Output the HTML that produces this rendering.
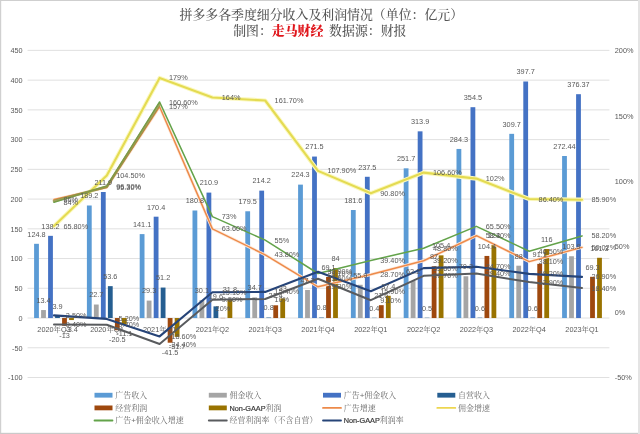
<!DOCTYPE html>
<html lang="zh-CN">
<head>
<meta charset="utf-8">
<title>拼多多各季度细分收入及利润情况</title>
<style>
html,body{margin:0;padding:0;background:#fff;}
body{width:640px;height:434px;overflow:hidden;}
svg{display:block;}
</style>
</head>
<body>
<svg width="640" height="434" viewBox="0 0 640 434">
<rect x="0" y="0" width="640" height="434" fill="#ffffff"/>
<rect x="0" y="0" width="1.2" height="434" fill="#d0d0d0"/>
<rect x="0" y="0" width="640" height="1" fill="#cfcfcf"/>
<rect x="0" y="432.8" width="640" height="1.2" fill="#cacaca"/>
<rect x="638" y="0" width="2" height="434" fill="#e4e4e4"/>
<g stroke="#dcdcdc" stroke-width="0.9">
<line x1="27.6" y1="377.50" x2="609.4" y2="377.50"/>
<line x1="27.6" y1="347.76" x2="609.4" y2="347.76"/>
<line x1="27.6" y1="318.03" x2="609.4" y2="318.03"/>
<line x1="27.6" y1="288.29" x2="609.4" y2="288.29"/>
<line x1="27.6" y1="258.55" x2="609.4" y2="258.55"/>
<line x1="27.6" y1="228.82" x2="609.4" y2="228.82"/>
<line x1="27.6" y1="199.08" x2="609.4" y2="199.08"/>
<line x1="27.6" y1="169.35" x2="609.4" y2="169.35"/>
<line x1="27.6" y1="139.61" x2="609.4" y2="139.61"/>
<line x1="27.6" y1="109.87" x2="609.4" y2="109.87"/>
<line x1="27.6" y1="80.14" x2="609.4" y2="80.14"/>
<line x1="27.6" y1="50.40" x2="609.4" y2="50.40"/>
</g>
<g font-family="Liberation Sans, sans-serif" font-size="7.3" fill="#595959">
<g text-anchor="end">
<text x="22.6" y="380.2">-100</text>
<text x="22.6" y="350.5">-50</text>
<text x="22.6" y="320.7">0</text>
<text x="22.6" y="291.0">50</text>
<text x="22.6" y="261.3">100</text>
<text x="22.6" y="231.5">150</text>
<text x="22.6" y="201.8">200</text>
<text x="22.6" y="172.0">250</text>
<text x="22.6" y="142.3">300</text>
<text x="22.6" y="112.6">350</text>
<text x="22.6" y="82.8">400</text>
<text x="22.6" y="53.1">450</text>
</g>
<text x="614.8" y="380.2">-50%</text>
<text x="614.8" y="314.8">0%</text>
<text x="614.8" y="249.4">50%</text>
<text x="614.8" y="183.9">100%</text>
<text x="614.8" y="118.5">150%</text>
<text x="614.8" y="53.1">200%</text>
</g>
<g>
<rect x="34.10" y="243.81" width="4.8" height="74.22" fill="#5B9BD5"/>
<rect x="41.10" y="310.06" width="4.8" height="7.97" fill="#A5A5A5"/>
<rect x="48.10" y="235.84" width="4.8" height="82.19" fill="#4472C4"/>
<rect x="55.10" y="315.71" width="4.8" height="2.32" fill="#255E91"/>
<rect x="62.10" y="318.03" width="4.8" height="7.73" fill="#9E480E"/>
<rect x="69.10" y="318.03" width="4.8" height="2.02" fill="#997300"/>
<rect x="86.90" y="205.50" width="4.8" height="112.52" fill="#5B9BD5"/>
<rect x="93.90" y="304.53" width="4.8" height="13.50" fill="#A5A5A5"/>
<rect x="100.90" y="192.00" width="4.8" height="126.02" fill="#4472C4"/>
<rect x="107.90" y="286.15" width="4.8" height="31.88" fill="#255E91"/>
<rect x="114.90" y="318.03" width="4.8" height="12.19" fill="#9E480E"/>
<rect x="121.90" y="318.03" width="4.8" height="6.60" fill="#997300"/>
<rect x="139.70" y="234.11" width="4.8" height="83.92" fill="#5B9BD5"/>
<rect x="146.70" y="300.60" width="4.8" height="17.43" fill="#A5A5A5"/>
<rect x="153.70" y="216.69" width="4.8" height="101.34" fill="#4472C4"/>
<rect x="160.70" y="287.58" width="4.8" height="30.45" fill="#255E91"/>
<rect x="167.70" y="318.03" width="4.8" height="24.68" fill="#9E480E"/>
<rect x="174.70" y="318.03" width="4.8" height="18.85" fill="#997300"/>
<rect x="192.50" y="210.50" width="4.8" height="107.53" fill="#5B9BD5"/>
<rect x="199.50" y="300.13" width="4.8" height="17.90" fill="#A5A5A5"/>
<rect x="206.50" y="192.60" width="4.8" height="125.43" fill="#4472C4"/>
<rect x="213.50" y="306.37" width="4.8" height="11.66" fill="#255E91"/>
<rect x="220.50" y="317.91" width="4.8" height="0.25" fill="#9E480E"/>
<rect x="227.50" y="299.11" width="4.8" height="18.91" fill="#997300"/>
<rect x="245.30" y="211.27" width="4.8" height="106.75" fill="#5B9BD5"/>
<rect x="252.30" y="297.39" width="4.8" height="20.64" fill="#A5A5A5"/>
<rect x="259.30" y="190.64" width="4.8" height="127.39" fill="#4472C4"/>
<rect x="266.30" y="317.55" width="4.8" height="0.48" fill="#255E91"/>
<rect x="273.30" y="305.30" width="4.8" height="12.73" fill="#9E480E"/>
<rect x="280.30" y="298.40" width="4.8" height="19.63" fill="#997300"/>
<rect x="298.10" y="184.63" width="4.8" height="133.40" fill="#5B9BD5"/>
<rect x="305.10" y="289.96" width="4.8" height="28.07" fill="#A5A5A5"/>
<rect x="312.10" y="156.56" width="4.8" height="161.47" fill="#4472C4"/>
<rect x="319.10" y="317.55" width="4.8" height="0.48" fill="#255E91"/>
<rect x="326.10" y="276.93" width="4.8" height="41.10" fill="#9E480E"/>
<rect x="333.10" y="268.07" width="4.8" height="49.96" fill="#997300"/>
<rect x="350.90" y="210.02" width="4.8" height="108.00" fill="#5B9BD5"/>
<rect x="357.90" y="284.78" width="4.8" height="33.25" fill="#A5A5A5"/>
<rect x="364.90" y="176.78" width="4.8" height="141.25" fill="#4472C4"/>
<rect x="371.90" y="317.79" width="4.8" height="0.25" fill="#255E91"/>
<rect x="378.90" y="305.18" width="4.8" height="12.85" fill="#9E480E"/>
<rect x="385.90" y="295.78" width="4.8" height="22.24" fill="#997300"/>
<rect x="403.70" y="168.33" width="4.8" height="149.69" fill="#5B9BD5"/>
<rect x="410.70" y="281.04" width="4.8" height="36.99" fill="#A5A5A5"/>
<rect x="417.70" y="131.34" width="4.8" height="186.68" fill="#4472C4"/>
<rect x="424.70" y="317.73" width="4.8" height="0.30" fill="#255E91"/>
<rect x="431.70" y="266.29" width="4.8" height="51.74" fill="#9E480E"/>
<rect x="438.70" y="255.34" width="4.8" height="62.68" fill="#997300"/>
<rect x="456.50" y="148.95" width="4.8" height="169.08" fill="#5B9BD5"/>
<rect x="463.50" y="276.28" width="4.8" height="41.75" fill="#A5A5A5"/>
<rect x="470.50" y="107.20" width="4.8" height="210.83" fill="#4472C4"/>
<rect x="477.50" y="317.67" width="4.8" height="0.36" fill="#255E91"/>
<rect x="484.50" y="255.94" width="4.8" height="62.09" fill="#9E480E"/>
<rect x="491.50" y="244.88" width="4.8" height="73.15" fill="#997300"/>
<rect x="509.30" y="133.84" width="4.8" height="184.19" fill="#5B9BD5"/>
<rect x="516.30" y="265.69" width="4.8" height="52.34" fill="#A5A5A5"/>
<rect x="523.30" y="81.50" width="4.8" height="236.52" fill="#4472C4"/>
<rect x="530.30" y="317.67" width="4.8" height="0.36" fill="#255E91"/>
<rect x="537.30" y="263.85" width="4.8" height="54.18" fill="#9E480E"/>
<rect x="544.30" y="249.04" width="4.8" height="68.99" fill="#997300"/>
<rect x="562.10" y="156.00" width="4.8" height="162.03" fill="#5B9BD5"/>
<rect x="569.10" y="256.24" width="4.8" height="61.79" fill="#A5A5A5"/>
<rect x="576.10" y="94.19" width="4.8" height="223.84" fill="#4472C4"/>
<rect x="590.10" y="276.81" width="4.8" height="41.21" fill="#9E480E"/>
<rect x="597.10" y="257.78" width="4.8" height="60.25" fill="#997300"/>
</g>
<g font-family="Liberation Sans, Noto Serif CJK SC, sans-serif" font-size="7.3" fill="#595959" text-anchor="middle">
<text x="54.0" y="331.5">2020年Q3</text>
<text x="106.8" y="331.5">2020年Q4</text>
<text x="159.6" y="331.5">2021年Q1</text>
<text x="212.4" y="331.5">2021年Q2</text>
<text x="265.2" y="331.5">2021年Q3</text>
<text x="318.0" y="331.5">2021年Q4</text>
<text x="370.8" y="331.5">2022年Q1</text>
<text x="423.6" y="331.5">2022年Q2</text>
<text x="476.4" y="331.5">2022年Q3</text>
<text x="529.2" y="331.5">2022年Q4</text>
<text x="582.0" y="331.5">2023年Q1</text>
</g>
<g fill="none" stroke-linejoin="round" stroke-linecap="round">
<polyline points="54.0,199.6 106.8,187.4 159.6,106.7 212.4,228.9 265.2,254.8 318.0,286.8 370.8,274.5 423.6,260.8 476.4,235.7 529.2,261.6 582.0,247.4" stroke="#fde9da" stroke-width="3.0"/>
<polyline points="54.0,199.6 106.8,187.4 159.6,106.7 212.4,228.9 265.2,254.8 318.0,286.8 370.8,274.5 423.6,260.8 476.4,235.7 529.2,261.6 582.0,247.4" stroke="#ED8A4A" stroke-width="1.5"/>
<polyline points="54.0,226.0 106.8,175.4 159.6,77.9 212.4,97.5 265.2,100.5 318.0,170.9 370.8,193.3 423.6,172.6 476.4,178.6 529.2,199.0 582.0,199.7" stroke="#fbf8c0" stroke-width="4.2"/>
<polyline points="54.0,226.0 106.8,175.4 159.6,77.9 212.4,97.5 265.2,100.5 318.0,170.9 370.8,193.3 423.6,172.6 476.4,178.6 529.2,199.0 582.0,199.7" stroke="#E4DB52" stroke-width="2.1"/>
<polyline points="54.0,202.2 106.8,186.1 159.6,102.0 212.4,216.6 265.2,240.1 318.0,273.5 370.8,260.5 423.6,248.2 476.4,226.4 529.2,251.2 582.0,235.9" stroke="#63A34A" stroke-width="1.55"/>
<polyline points="54.0,200.9 106.8,186.7 159.6,104.3" stroke="#8b9443" stroke-width="2.6" stroke-opacity="0.8"/>
<polyline points="54.0,324.4 106.8,324.8 159.6,344.0 212.4,299.7 265.2,299.0 318.0,278.7 370.8,300.2 423.6,275.8 476.4,273.6 529.2,282.1 582.0,288.0" stroke="#595B5E" stroke-width="2"/>
<polyline points="54.0,315.4 106.8,318.9 159.6,336.4 212.4,292.3 265.2,291.9 318.0,271.7 370.8,291.3 423.6,268.1 476.4,266.7 529.2,273.9 582.0,276.9" stroke="#264478" stroke-width="2.1"/>
</g>
<g font-family="Liberation Sans, sans-serif" font-size="7.3" fill="#595959">
<g text-anchor="middle">
<text x="36.5" y="236.6">124.8</text>
<text x="43.5" y="302.9">13.4</text>
<text x="50.5" y="228.6">138.2</text>
<text x="57.5" y="308.5">3.9</text>
<text x="64.5" y="337.6">-13</text>
<text x="71.5" y="331.8">-3.4</text>
<text x="89.3" y="198.3">189.2</text>
<text x="96.3" y="297.3">22.7</text>
<text x="103.3" y="184.8">211.9</text>
<text x="110.3" y="278.9">53.6</text>
<text x="117.3" y="342.0">-20.5</text>
<text x="124.3" y="336.4">-11.1</text>
<text x="142.1" y="226.9">141.1</text>
<text x="149.1" y="293.4">29.3</text>
<text x="156.1" y="209.5">170.4</text>
<text x="163.1" y="280.4">51.2</text>
<text x="170.1" y="354.5">-41.5</text>
<text x="177.1" y="348.7">-31.7</text>
<text x="194.9" y="203.3">180.8</text>
<text x="201.9" y="292.9">30.1</text>
<text x="208.9" y="185.4">210.9</text>
<text x="215.9" y="299.2">19.6</text>
<text x="222.9" y="310.7">20%</text>
<text x="229.9" y="291.9">31.8</text>
<text x="247.7" y="204.1">179.5</text>
<text x="254.7" y="290.2">34.7</text>
<text x="261.7" y="183.4">214.2</text>
<text x="268.7" y="310.4">0.8</text>
<text x="275.7" y="298.1">21.4</text>
<text x="282.7" y="291.2">33</text>
<text x="300.5" y="177.4">224.3</text>
<text x="307.5" y="282.8">47.2</text>
<text x="314.5" y="149.4">271.5</text>
<text x="321.5" y="310.4">0.8</text>
<text x="328.5" y="269.7">69.1</text>
<text x="335.5" y="260.9">84</text>
<text x="353.3" y="202.8">181.6</text>
<text x="360.3" y="277.6">55.9</text>
<text x="367.3" y="169.6">237.5</text>
<text x="374.3" y="310.6">0.4</text>
<text x="381.3" y="298.0">21.6</text>
<text x="388.3" y="288.6">37.4</text>
<text x="406.1" y="161.1">251.7</text>
<text x="413.1" y="273.8">62.2</text>
<text x="420.1" y="124.1">313.9</text>
<text x="427.1" y="310.5">0.5</text>
<text x="434.1" y="259.1">87</text>
<text x="441.1" y="248.1">105.4</text>
<text x="458.9" y="141.7">284.3</text>
<text x="465.9" y="269.1">70.2</text>
<text x="472.9" y="100.0">354.5</text>
<text x="479.9" y="310.5">0.6</text>
<text x="486.9" y="248.7">104.4</text>
<text x="493.9" y="237.7">123</text>
<text x="511.7" y="126.6">309.7</text>
<text x="518.7" y="258.5">88</text>
<text x="525.7" y="74.3">397.7</text>
<text x="532.7" y="310.5">0.6</text>
<text x="539.7" y="256.6">91.1</text>
<text x="546.7" y="241.8">116</text>
<text x="564.5" y="148.8">272.44</text>
<text x="571.5" y="249.0">103.9</text>
<text x="578.5" y="87.0">376.37</text>
<text x="592.5" y="269.6">69.3</text>
<text x="599.5" y="250.6">101.3</text>
</g>
<text x="63.4" y="202.1">86%</text>
<text x="116.2" y="189.9">95.30%</text>
<text x="169.0" y="109.2">157%</text>
<text x="221.8" y="231.4">63.60%</text>
<text x="274.6" y="257.3">43.80%</text>
<text x="327.4" y="289.3">19.30%</text>
<text x="380.2" y="277.0">28.70%</text>
<text x="433.0" y="263.3">39.20%</text>
<text x="485.8" y="238.2">58.40%</text>
<text x="538.6" y="264.1">38.10%</text>
<text x="591.4" y="249.9">50.02%</text>
<text x="63.4" y="228.5">65.80%</text>
<text x="116.2" y="177.9">104.50%</text>
<text x="169.0" y="80.4">179%</text>
<text x="221.8" y="100.0">164%</text>
<text x="274.6" y="103.0">161.70%</text>
<text x="327.4" y="173.4">107.90%</text>
<text x="380.2" y="195.8">90.80%</text>
<text x="433.0" y="175.1">106.60%</text>
<text x="485.8" y="181.1">102%</text>
<text x="538.6" y="201.5">86.40%</text>
<text x="591.4" y="202.2">85.90%</text>
<text x="63.4" y="204.7">84%</text>
<text x="116.2" y="188.6">96.30%</text>
<text x="169.0" y="104.5">160.60%</text>
<text x="221.8" y="219.1">73%</text>
<text x="274.6" y="242.6">55%</text>
<text x="327.4" y="276.0">28.10%</text>
<text x="380.2" y="263.0">39.40%</text>
<text x="433.0" y="250.7">48.80%</text>
<text x="485.8" y="228.9">65.50%</text>
<text x="538.6" y="253.7">46.50%</text>
<text x="591.4" y="238.4">58.20%</text>
<text x="63.4" y="326.9">-9.40%</text>
<text x="116.2" y="327.3">-9.70%</text>
<text x="169.0" y="346.5">-24.40%</text>
<text x="221.8" y="302.2">9.50%</text>
<text x="274.6" y="301.5">10%</text>
<text x="327.4" y="281.2">25.50%</text>
<text x="380.2" y="302.7">9.10%</text>
<text x="433.0" y="278.3">27.70%</text>
<text x="485.8" y="276.1">29.40%</text>
<text x="538.6" y="284.6">22.90%</text>
<text x="591.4" y="290.5">18.40%</text>
<text x="63.4" y="317.9">-2.50%</text>
<text x="116.2" y="321.4">-5.20%</text>
<text x="169.0" y="338.9">-18.60%</text>
<text x="221.8" y="294.8">15.10%</text>
<text x="274.6" y="294.4">15.40%</text>
<text x="327.4" y="274.2">30.90%</text>
<text x="380.2" y="293.8">15.90%</text>
<text x="433.0" y="270.6">33.60%</text>
<text x="485.8" y="269.2">34.70%</text>
<text x="538.6" y="276.4">29.20%</text>
<text x="591.4" y="279.4">26.90%</text>
</g>
<g font-family="Liberation Serif, Noto Serif CJK SC, serif" font-size="12.9" fill="#555555" text-anchor="middle" font-weight="500">
<text x="321.3" y="19.2">拼多多各季度细分收入及利润情况（单位：亿元）</text>
<text x="319.8" y="35.3" xml:space="preserve">制图：<tspan fill="#e0161c" font-weight="900">走马财经</tspan><tspan dx="2.5"> 数据源：财报</tspan></text>
</g>
<g font-family="Liberation Sans, Noto Serif CJK SC, serif" font-size="8" fill="#6c6c6c">
<rect x="94.5" y="392.8" width="18" height="4.8" fill="#5B9BD5"/>
<text x="115.2" y="398.1">广告收入</text>
<rect x="208.8" y="392.8" width="18" height="4.8" fill="#A5A5A5"/>
<text x="229.5" y="398.1">佣金收入</text>
<rect x="323" y="392.8" width="18" height="4.8" fill="#4472C4"/>
<text x="343.7" y="398.1">广告+佣金收入</text>
<rect x="437.3" y="392.8" width="18" height="4.8" fill="#255E91"/>
<text x="458.0" y="398.1">自营收入</text>
<rect x="94.5" y="405.5" width="18" height="4.8" fill="#9E480E"/>
<text x="115.2" y="410.8">经营利润</text>
<rect x="208.8" y="405.5" width="18" height="4.8" fill="#997300"/>
<text x="229.5" y="410.8"><tspan font-size="7.3" fill="#3a3a3a" stroke="#3a3a3a" stroke-width="0.2">Non-GAAP</tspan>利润</text>
<line x1="323" y1="407.9" x2="341" y2="407.9" stroke="#ED8A4A" stroke-width="1.8" stroke-linecap="round"/>
<text x="343.7" y="410.8">广告增速</text>
<line x1="437.3" y1="407.9" x2="455.3" y2="407.9" stroke="#EDD650" stroke-width="1.8" stroke-linecap="round"/>
<text x="458.0" y="410.8">佣金增速</text>
<line x1="94.5" y1="420.5" x2="112.5" y2="420.5" stroke="#63A34A" stroke-width="1.8" stroke-linecap="round"/>
<text x="115.2" y="423.4">广告+佣金收入增速</text>
<line x1="208.8" y1="420.5" x2="226.8" y2="420.5" stroke="#595B5E" stroke-width="1.8" stroke-linecap="round"/>
<text x="229.5" y="423.4">经营利润率（不含自营）</text>
<line x1="323" y1="420.5" x2="341" y2="420.5" stroke="#264478" stroke-width="1.8" stroke-linecap="round"/>
<text x="343.7" y="423.4"><tspan font-size="7.3" fill="#3a3a3a" stroke="#3a3a3a" stroke-width="0.2">Non-GAAP</tspan>利润率</text>
</g>
</svg>
</body>
</html>
